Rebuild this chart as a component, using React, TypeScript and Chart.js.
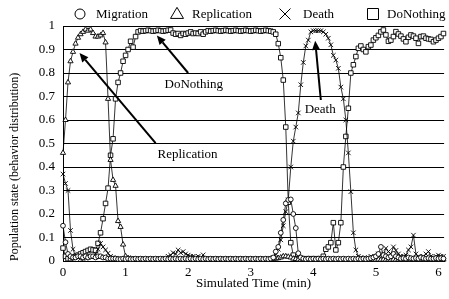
import React, { useEffect, useRef } from "react";
import { Chart, registerables } from "chart.js";

Chart.register(...registerables);

const FONT = "'Liberation Serif', 'Times New Roman', serif";

const SERIES_NAMES = ["Migration", "Replication", "Death", "DoNothing"];
const POINT_STYLES = ["circle", "triangle", "crossRot", "rect"];
const SAMPLE_STEP_MIN = 0.04;
const X_MAX = 6.09;
const X_TICKS = [0, 1, 2, 3, 4, 5, 6];
const Y_TICKS = [0, 0.1, 0.2, 0.3, 0.4, 0.5, 0.6, 0.7, 0.8, 0.9, 1];
const Y_TICK_LABELS = ["0", "0.1", "0.2", "0.3", "0.4", "0.5", "0.6", "0.7", "0.8", "0.9", "1"];

const MIGRATION = [
  0.15, 0.08, 0.03, 0.02, 0.015, 0.015, 0.02, 0.02, 0.015, 0.02,
  0.015, 0.02, 0.02, 0.015, 0.02, 0.02, 0.015, 0.015, 0.01, 0.01,
  0.01, 0.01, 0.008, 0.008, 0.01, 0.008, 0.01, 0.008, 0.008, 0.01,
  0.008, 0.01, 0.008, 0.01, 0.008, 0.01, 0.008, 0.01, 0.008, 0.01,
  0.008, 0.01, 0.008, 0.01, 0.008, 0.01, 0.008, 0.01, 0.008, 0.01,
  0.008, 0.01, 0.008, 0.01, 0.008, 0.01, 0.008, 0.01, 0.008, 0.01,
  0.008, 0.01, 0.008, 0.01, 0.008, 0.01, 0.008, 0.01, 0.008, 0.01,
  0.008, 0.01, 0.008, 0.01, 0.008, 0.01, 0.008, 0.01, 0.008, 0.01,
  0.008, 0.01, 0.008, 0.01, 0.015, 0.04, 0.06, 0.12, 0.175, 0.245,
  0.26, 0.262, 0.2, 0.14, 0.033, 0.015, 0.01, 0.008, 0.01, 0.008,
  0.01, 0.008, 0.01, 0.008, 0.01, 0.008, 0.01, 0.008, 0.01, 0.008,
  0.01, 0.008, 0.01, 0.008, 0.01, 0.008, 0.01, 0.008, 0.01, 0.008,
  0.01, 0.008, 0.01, 0.012, 0.015, 0.02, 0.03, 0.06, 0.025, 0.02,
  0.015, 0.02, 0.03, 0.02, 0.015, 0.01, 0.012, 0.01, 0.015, 0.012,
  0.01, 0.012, 0.01, 0.015, 0.012, 0.01, 0.012, 0.01, 0.01, 0.012,
  0.01, 0.012, 0.01,
];

const REPLICATION = [
  0.46, 0.6, 0.76, 0.85, 0.89, 0.925, 0.95, 0.965, 0.975, 0.985,
  0.98, 0.985, 0.97, 0.955, 0.955, 0.96, 0.97, 0.93, 0.69, 0.43,
  0.345, 0.32, 0.17, 0.145, 0.07, 0.02, 0.012, 0.01, 0.008, 0.008,
  0.006, 0.005, 0.006, 0.005, 0.006, 0.005, 0.006, 0.005, 0.006, 0.005,
  0.006, 0.005, 0.006, 0.005, 0.006, 0.005, 0.006, 0.005, 0.006, 0.005,
  0.006, 0.005, 0.006, 0.005, 0.006, 0.005, 0.006, 0.005, 0.006, 0.005,
  0.006, 0.005, 0.006, 0.005, 0.006, 0.005, 0.006, 0.005, 0.006, 0.005,
  0.006, 0.005, 0.006, 0.005, 0.006, 0.005, 0.006, 0.005, 0.006, 0.005,
  0.005, 0.006, 0.005, 0.006, 0.008, 0.01, 0.012, 0.015, 0.02, 0.02,
  0.018, 0.015, 0.01, 0.008, 0.006, 0.005, 0.006, 0.005, 0.006, 0.005,
  0.006, 0.005, 0.006, 0.005, 0.006, 0.005, 0.006, 0.005, 0.006, 0.005,
  0.006, 0.005, 0.006, 0.005, 0.006, 0.005, 0.006, 0.005, 0.006, 0.005,
  0.006, 0.005, 0.006, 0.005, 0.006, 0.005, 0.006, 0.005, 0.006, 0.005,
  0.006, 0.005, 0.006, 0.005, 0.006, 0.005, 0.006, 0.005, 0.006, 0.005,
  0.006, 0.005, 0.006, 0.005, 0.006, 0.005, 0.006, 0.005, 0.006, 0.005,
  0.006, 0.005, 0.006,
];

const DEATH = [
  0.37, 0.33, 0.3, 0.13, 0.05, 0.02, 0.015, 0.01, 0.01, 0.012,
  0.015, 0.02, 0.02, 0.03, 0.05, 0.075, 0.06, 0.047, 0.033, 0.02,
  0.015, 0.012, 0.01, 0.01, 0.008, 0.008, 0.008, 0.01, 0.008, 0.008,
  0.008, 0.01, 0.008, 0.008, 0.01, 0.008, 0.008, 0.01, 0.008, 0.01,
  0.01, 0.012, 0.02, 0.025, 0.035, 0.03, 0.047, 0.035, 0.04, 0.03,
  0.025, 0.02, 0.02, 0.015, 0.02, 0.015, 0.026, 0.01, 0.008, 0.01,
  0.008, 0.01, 0.008, 0.008, 0.01, 0.008, 0.008, 0.01, 0.008, 0.008,
  0.01, 0.008, 0.008, 0.01, 0.008, 0.008, 0.01, 0.008, 0.008, 0.01,
  0.008, 0.008, 0.01, 0.012, 0.015, 0.03, 0.05, 0.09, 0.15, 0.21,
  0.26, 0.4, 0.51, 0.57, 0.63, 0.75, 0.845, 0.915, 0.94, 0.975,
  0.98, 0.98, 0.98, 0.98, 0.975, 0.965, 0.948, 0.92, 0.875, 0.855,
  0.82, 0.74, 0.69, 0.6, 0.46, 0.295, 0.12, 0.047, 0.02, 0.015,
  0.012, 0.01, 0.015, 0.02, 0.015, 0.02, 0.03, 0.025, 0.03, 0.054,
  0.04, 0.03, 0.06, 0.045, 0.03, 0.02, 0.02, 0.025, 0.047, 0.06,
  0.11, 0.03, 0.02, 0.015, 0.02, 0.03, 0.04, 0.02, 0.015, 0.02,
  0.025, 0.02, 0.02,
];

const DO_NOTHING = [
  0.055, 0.02, 0.01, 0.01, 0.015, 0.02, 0.025, 0.03, 0.035, 0.04,
  0.045, 0.05, 0.047, 0.045, 0.075, 0.12, 0.18, 0.245, 0.31, 0.45,
  0.52, 0.69, 0.76, 0.8, 0.85, 0.875, 0.9, 0.935, 0.91, 0.955,
  0.975, 0.98, 0.978, 0.98, 0.982, 0.98, 0.978, 0.98, 0.982, 0.98,
  0.978, 0.98, 0.982, 0.983, 0.97, 0.965, 0.968, 0.96, 0.968, 0.965,
  0.97, 0.975, 0.968, 0.97, 0.968, 0.975, 0.965, 0.975, 0.98, 0.978,
  0.98, 0.982, 0.98, 0.978, 0.98, 0.982, 0.98, 0.978, 0.98, 0.982,
  0.98, 0.978, 0.98, 0.982, 0.98, 0.978, 0.98, 0.982, 0.98, 0.978,
  0.98, 0.982, 0.98, 0.978, 0.975, 0.965, 0.925, 0.865, 0.77, 0.57,
  0.25, 0.078, 0.025, 0.01, 0.01, 0.008, 0.01, 0.008, 0.01, 0.008,
  0.01, 0.008, 0.01, 0.008, 0.02, 0.05, 0.06, 0.078, 0.163, 0.047,
  0.078, 0.163, 0.4, 0.53, 0.65, 0.8, 0.835, 0.87, 0.905, 0.915,
  0.9, 0.89, 0.912, 0.919, 0.94, 0.95, 0.96, 0.975, 0.983, 0.962,
  0.935, 0.94, 0.955, 0.976, 0.966, 0.957, 0.945, 0.933, 0.952, 0.962,
  0.957, 0.948, 0.926, 0.955, 0.957, 0.948, 0.945, 0.943, 0.933, 0.94,
  0.948, 0.955, 0.968,
];

const SERIES_VALUES = [MIGRATION, REPLICATION, DEATH, DO_NOTHING];

// annotations in data units (minutes, population share)
const ANNOTATION_LABELS = ["Replication", "DoNothing", "Death"];
const ANNOTATION_TEXT_X = [1.99, 2.09, 4.11];
const ANNOTATION_TEXT_Y = [0.451, 0.749, 0.643];
const ARROW_FROM_X = [1.48, 2.0, 4.12];
const ARROW_FROM_Y = [0.502, 0.8, 0.685];
const ARROW_TO_X = [0.264, 1.5, 4.03];
const ARROW_TO_Y = [0.885, 0.96, 0.937];

function drawMarker(ctx: CanvasRenderingContext2D, style: string, x: number, y: number, r: number) {
  ctx.beginPath();
  if (style === "circle") {
    ctx.arc(x, y, r, 0, Math.PI * 2);
    ctx.fill();
    ctx.stroke();
  } else if (style === "triangle") {
    const h = r * 1.7;
    ctx.moveTo(x, y - h * 0.6);
    ctx.lineTo(x + r, y + h * 0.4);
    ctx.lineTo(x - r, y + h * 0.4);
    ctx.closePath();
    ctx.fill();
    ctx.stroke();
  } else if (style === "crossRot") {
    ctx.moveTo(x - r, y - r);
    ctx.lineTo(x + r, y + r);
    ctx.moveTo(x + r, y - r);
    ctx.lineTo(x - r, y + r);
    ctx.stroke();
  } else {
    ctx.rect(x - r, y - r, 2 * r, 2 * r);
    ctx.fill();
    ctx.stroke();
  }
}

const legendPlugin = {
  id: "markerLegend",
  afterDraw(chart: any, _args: any, opts: any) {
    const ctx: CanvasRenderingContext2D = chart.ctx;
    ctx.save();
    ctx.font = `13px ${FONT}`;
    ctx.textBaseline = "middle";
    ctx.lineWidth = 1;
    SERIES_NAMES.forEach((name, i) => {
      ctx.strokeStyle = "#000";
      ctx.fillStyle = "#fff";
      drawMarker(ctx, POINT_STYLES[i], opts.markerX[i], opts.y, opts.markerR[i]);
      ctx.fillStyle = "#000";
      ctx.fillText(name, opts.textX[i], opts.y + 1);
    });
    ctx.restore();
  },
};

const annotationPlugin = {
  id: "arrowNotes",
  afterDatasetsDraw(chart: any) {
    const ctx: CanvasRenderingContext2D = chart.ctx;
    const xs = chart.scales.x;
    const ys = chart.scales.y;
    ctx.save();
    ctx.font = `13px ${FONT}`;
    ctx.textAlign = "center";
    ctx.textBaseline = "middle";
    ctx.fillStyle = "#000";
    ctx.strokeStyle = "#000";
    ANNOTATION_LABELS.forEach((label, i) => {
      ctx.fillText(label, xs.getPixelForValue(ANNOTATION_TEXT_X[i]), ys.getPixelForValue(ANNOTATION_TEXT_Y[i]));
      const x1 = xs.getPixelForValue(ARROW_FROM_X[i]);
      const y1 = ys.getPixelForValue(ARROW_FROM_Y[i]);
      const x2 = xs.getPixelForValue(ARROW_TO_X[i]);
      const y2 = ys.getPixelForValue(ARROW_TO_Y[i]);
      const ang = Math.atan2(y2 - y1, x2 - x1);
      const headLen = 9;
      const headW = 4;
      const bx = x2 - headLen * Math.cos(ang);
      const by = y2 - headLen * Math.sin(ang);
      ctx.lineWidth = 2;
      ctx.beginPath();
      ctx.moveTo(x1, y1);
      ctx.lineTo(bx, by);
      ctx.stroke();
      ctx.beginPath();
      ctx.moveTo(x2, y2);
      ctx.lineTo(bx + headW * Math.sin(ang), by - headW * Math.cos(ang));
      ctx.lineTo(bx - headW * Math.sin(ang), by + headW * Math.cos(ang));
      ctx.closePath();
      ctx.fill();
    });
    ctx.restore();
  },
};

export default function App() {
  const ref = useRef<HTMLCanvasElement | null>(null);

  useEffect(() => {
    if (!ref.current) return;
    const radii = [2.4, 3, 3.2, 3.2];
    const datasets = SERIES_NAMES.map((name, s) => ({
      label: name,
      data: SERIES_VALUES[s].map((v, i) => ({ x: i * SAMPLE_STEP_MIN, y: v })),
      borderColor: "#000",
      borderWidth: 0.8,
      backgroundColor: "#fff",
      pointStyle: POINT_STYLES[s],
      pointRadius: radii[s],
      pointBorderColor: "#000",
      pointBorderWidth: 0.9,
      pointBackgroundColor: "#fff",
      tension: 0,
      clip: false as any,
    }));

    const chart = new Chart(ref.current, {
      type: "line",
      data: { datasets },
      plugins: [legendPlugin, annotationPlugin],
      options: {
        animation: false,
        responsive: false,
        layout: { padding: { top: 26, left: 0, right: 0, bottom: 0 } },
        plugins: {
          legend: { display: false },
          tooltip: { enabled: false },
          markerLegend: {
            y: 14,
            markerX: [80, 177, 285, 373],
            markerR: [5, 6.5, 5.5, 5.5],
            textX: [96, 192, 303, 387],
          },
        } as any,
        scales: {
          x: {
            type: "linear",
            min: 0,
            max: X_MAX,
            afterBuildTicks: (scale: any) => {
              scale.ticks = X_TICKS.map((v) => ({ value: v }));
            },
            afterFit: (scale: any) => {
              scale.height = 38;
            },
            ticks: {
              color: "#000",
              padding: 4,
              maxRotation: 0,
              autoSkip: false,
              font: { family: FONT, size: 13 },
              callback: (v: any) => String(v),
            },
            grid: { display: false, drawTicks: false },
            border: { display: true, color: "#000", width: 1 },
            title: {
              display: true,
              text: "Simulated Time (min)",
              color: "#000",
              font: { family: FONT, size: 13 },
              padding: { top: 0, bottom: 8 },
            },
          },
          y: {
            min: 0,
            max: 1,
            afterBuildTicks: (scale: any) => {
              scale.ticks = Y_TICKS.map((v) => ({ value: v }));
            },
            afterFit: (scale: any) => {
              scale.width = 63;
            },
            ticks: {
              color: "#000",
              padding: 8,
              autoSkip: false,
              font: { family: FONT, size: 13 },
              callback: (_v: any, i: number) => Y_TICK_LABELS[i],
            },
            grid: { color: "#000", lineWidth: 1, drawTicks: false },
            border: { display: true, color: "#000", width: 1 },
            title: {
              display: true,
              text: "Population state (behavior distribution)",
              color: "#000",
              align: "start",
              font: { family: FONT, size: 12 },
              padding: { top: 8, bottom: 0 },
            },
          },
        },
      },
    });
    return () => chart.destroy();
  }, []);

  return (
    <div style={{ position: "fixed", left: 0, top: 0, width: 449, height: 299, background: "#fff" }}>
      <canvas ref={ref} width={449} height={299} />
    </div>
  );
}
